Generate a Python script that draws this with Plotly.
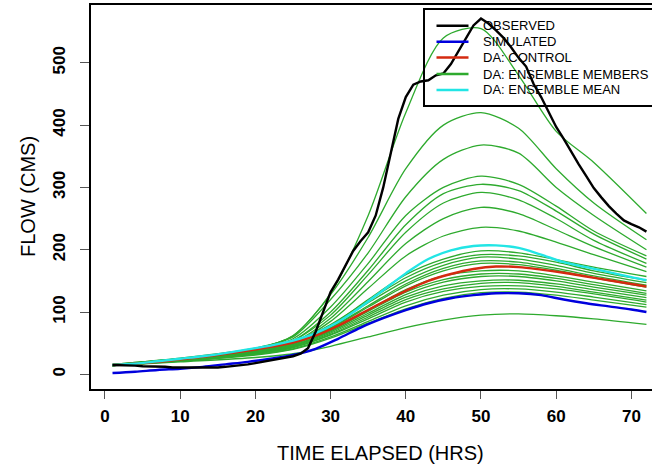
import plotly.graph_objects as go

# ---------------- data ----------------
hours = list(range(1, 73))
observed = [15, 15, 14, 14, 13, 13, 12, 12, 11, 11, 10, 10, 10, 11, 11, 12, 13, 14, 16, 18,
            20, 22, 24, 27, 29, 33, 42, 68, 100, 132, 152, 175, 198, 214, 228, 255, 300, 355, 410, 445,
            465, 470, 472, 480, 483, 498, 518, 540, 560, 571, 563, 552, 540, 525, 508, 494, 466, 445, 420, 397,
            378, 357, 337, 318, 299, 284, 270, 258, 247, 241, 236, 229]

det_hours = [1, 4, 7, 10, 13, 16, 19, 22, 25, 28, 31, 34, 37, 40, 43, 46, 49, 52, 55, 58, 61, 64, 67, 70, 72]
simulated = [2, 4, 7, 9, 12, 16, 20, 25, 31, 41, 57, 75, 90, 103, 114, 122, 127, 130, 130, 127, 120, 114, 109, 104, 100]
control = [15, 17, 20, 24, 28, 33, 38, 44, 51, 62, 78, 97, 116, 134, 150, 161, 169, 173, 172, 168, 163, 157, 151, 145, 141]
ens_mean = [15, 17, 21, 25, 29, 34, 40, 46, 54, 66, 84, 108, 135, 162, 185, 199, 206, 207, 203, 192, 180, 172, 164, 156, 151]

ens_hours = [1, 10, 20, 25, 30, 35, 40, 45, 50, 55, 60, 65, 72]
members = [
    [15, 25, 41, 62, 130, 255, 420, 540, 555, 480, 390, 340, 258],
    [15, 25, 41, 62, 128, 220, 330, 400, 420, 395, 330, 275, 216],
    [16, 26, 42, 60, 120, 195, 285, 345, 368, 355, 300, 255, 200],
    [15, 25, 40, 57, 108, 178, 255, 300, 318, 305, 270, 230, 190],
    [14, 24, 38, 54, 100, 167, 240, 290, 305, 295, 262, 225, 185],
    [15, 24, 39, 54, 95, 160, 228, 275, 292, 280, 250, 215, 178],
    [14, 23, 37, 51, 90, 149, 210, 250, 268, 258, 232, 205, 172],
    [15, 24, 38, 50, 85, 138, 190, 222, 236, 230, 212, 192, 165],
    [14, 23, 36, 48, 78, 120, 160, 185, 198, 195, 184, 172, 157],
    [16, 25, 38, 50, 80, 118, 155, 180, 192, 190, 180, 166, 151],
    [15, 24, 37, 49, 78, 115, 150, 175, 188, 185, 175, 162, 147],
    [14, 23, 36, 48, 75, 110, 145, 170, 182, 180, 170, 158, 143],
    [15, 24, 37, 48, 74, 108, 142, 166, 178, 176, 167, 155, 140],
    [14, 22, 35, 46, 70, 103, 136, 158, 166, 166, 158, 148, 134],
    [15, 23, 35, 46, 70, 101, 132, 152, 161, 161, 154, 144, 130],
    [14, 22, 34, 45, 68, 98, 128, 148, 157, 157, 150, 140, 127],
    [15, 23, 34, 44, 66, 95, 124, 142, 150, 151, 145, 136, 123],
    [14, 22, 33, 43, 64, 92, 120, 137, 146, 147, 141, 132, 119],
    [15, 22, 33, 43, 63, 89, 116, 133, 141, 142, 137, 129, 116],
    [14, 21, 32, 41, 60, 85, 110, 127, 136, 137, 132, 124, 112],
    [14, 21, 31, 40, 58, 82, 105, 122, 131, 132, 127, 119, 108],
    [14, 20, 27, 33, 45, 60, 75, 87, 95, 97, 94, 89, 80],
]

x_ticks = [0, 10, 20, 30, 40, 50, 60, 70]
y_ticks = [0, 100, 200, 300, 400, 500]
legend_labels = ["OBSERVED", "SIMULATED", "DA: CONTROL", "DA: ENSEMBLE MEMBERS", "DA: ENSEMBLE MEAN"]

# ---------------- styling ----------------
C_OBS, C_SIM, C_CTL, C_ENS, C_MEAN = "#000000", "#0000dd", "#d42a10", "#2eaa2e", "#22e5e5"
legend_colors = [C_OBS, C_SIM, C_CTL, C_ENS, C_MEAN]
W, H = 652, 469
ML, MR, MT, MB = 91, 0, 5, 80
PW, PH = W - ML - MR, H - MT - MB
FONT = "Liberation Sans, Arial, Helvetica, sans-serif"


def px(xp):
    return (xp - ML) / PW


def py(yp):
    return 1 - (yp - MT) / PH


fig = go.Figure()
for m in members:
    fig.add_trace(go.Scatter(x=ens_hours, y=m, mode="lines", line=dict(color=C_ENS, width=1.3, shape="spline", smoothing=0.8),
                             showlegend=False, hoverinfo="skip"))
fig.add_trace(go.Scatter(x=det_hours, y=simulated, mode="lines", line=dict(color=C_SIM, width=2.4, shape="spline"), showlegend=False))
fig.add_trace(go.Scatter(x=det_hours, y=control, mode="lines", line=dict(color=C_CTL, width=2.4, shape="spline"), showlegend=False))
fig.add_trace(go.Scatter(x=det_hours, y=ens_mean, mode="lines", line=dict(color=C_MEAN, width=2.4, shape="spline"), showlegend=False))
fig.add_trace(go.Scatter(x=hours, y=observed, mode="lines", line=dict(color=C_OBS, width=2.4), showlegend=False))

shapes = []
annotations = []
# legend box (transparent, clipped at the right edge like the reference)
shapes.append(dict(type="rect", xref="paper", yref="paper", x0=px(424), x1=px(680), y0=py(106), y1=py(9),
                   line=dict(color="black", width=2), fillcolor="rgba(0,0,0,0)", layer="above"))
rows = [25.7, 41.7, 57.5, 74, 90]
for lab, col, ry in zip(legend_labels, legend_colors, rows):
    shapes.append(dict(type="line", xref="paper", yref="paper", x0=px(436.5), x1=px(468.5), y0=py(ry), y1=py(ry),
                       line=dict(color=col, width=2.4), layer="above"))
    annotations.append(dict(text=lab, xref="paper", yref="paper", x=px(481), y=py(ry), xanchor="left", yanchor="middle",
                            showarrow=False, font=dict(family=FONT, size=13, color="black")))

annotations.append(dict(text="TIME ELAPSED (HRS)", xref="paper", yref="paper", x=px(380), y=py(453),
                        xanchor="center", yanchor="middle", showarrow=False, font=dict(family=FONT, size=20, color="black")))
annotations.append(dict(text="FLOW (CMS)", xref="paper", yref="paper", x=px(28), y=py(197), textangle=-90,
                        xanchor="center", yanchor="middle", showarrow=False, font=dict(family=FONT, size=20, color="black")))

fig.update_layout(
    width=W, height=H, margin=dict(l=ML, r=MR, t=MT, b=MB),
    paper_bgcolor="white", plot_bgcolor="white",
    shapes=shapes, annotations=annotations, showlegend=False,
    font=dict(family=FONT, color="black"),
    xaxis=dict(range=[-1.86, 72.74], tickvals=x_ticks, ticktext=[f"<b>{v}</b>" for v in x_ticks],
               showgrid=False, zeroline=False, showline=True, linecolor="black", linewidth=2, mirror=True,
               ticks="outside", ticklen=8, tickwidth=1, tickcolor="#555",
               tickfont=dict(family=FONT, size=17, color="black"), ticklabelstandoff=3),
    yaxis=dict(range=[-23.6, 592.8], tickvals=y_ticks, ticktext=[f"<b>{v}</b>" for v in y_ticks],
               showgrid=False, zeroline=False, showline=True, linecolor="black", linewidth=2, mirror=False,
               ticks="outside", ticklen=9, tickwidth=1, tickcolor="#555", tickangle=-90,
               tickfont=dict(family=FONT, size=17, color="black"), ticklabelstandoff=8),
)

fig.write_html("out.html")
